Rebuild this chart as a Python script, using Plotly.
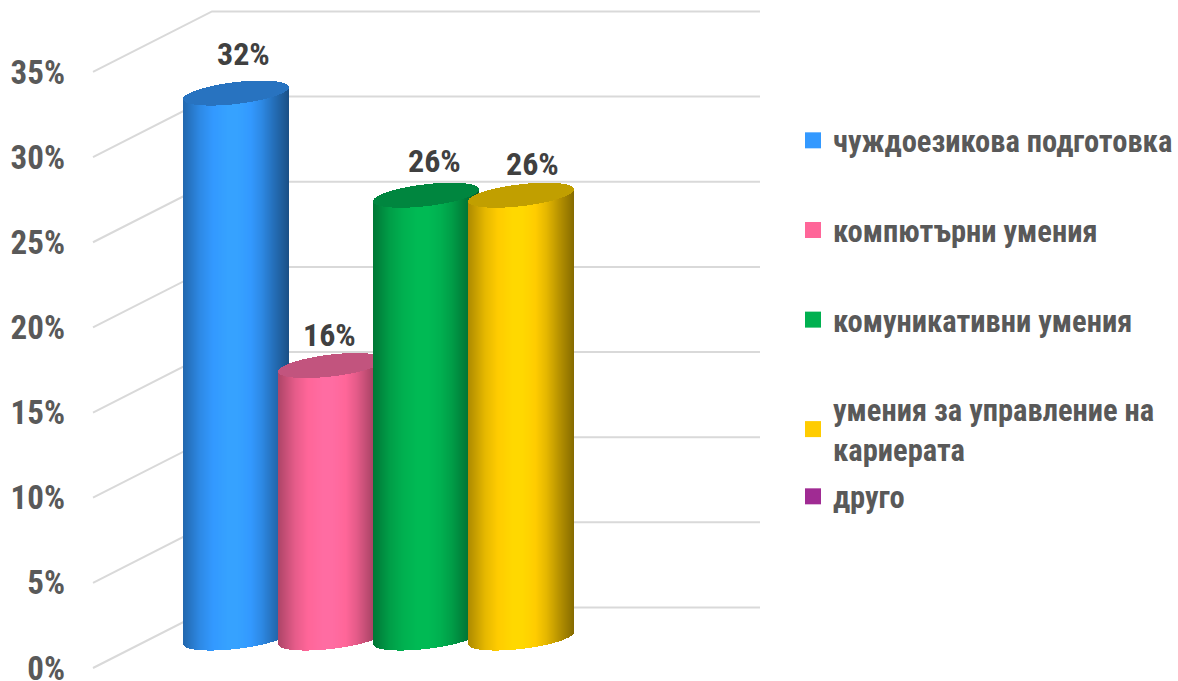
import plotly.graph_objects as go

W, H = 1178, 692
categories = ["чуждоезикова подготовка", "компютърни умения", "комуникативни умения",
              "умения за управление на<br>кариерата", "друго"]
values = [32, 16, 26, 26, 0]
base_colors = ["#3399FF", "#FF6699", "#00B050", "#FFCC00", "#A02090"]
cap_colors = ["#2873C0", "#C2547E", "#00863F", "#C19F00", "#A02090"]
legend_colors = ["#3399FF", "#FF6699", "#00B050", "#FFCC00", "#A02B93"]
tick_values = [0, 5, 10, 15, 20, 25, 30, 35]
tick_labels = ["0%", "5%", "10%", "15%", "20%", "25%", "30%", "35%"]
label_dx = [7, -2, 8, 11, 0]
label_dy = [39, 31, 34, 31, 0]

PX = 17.03
FONT = "Roboto Condensed, PT Sans Narrow, Liberation Sans, sans-serif"
front_zero, bar_zero, back_zero = 668, 638, 607.5
wall_front, wall_back, wall_end = 93, 212, 760
cyl_left, cyl_step, cyl_w = 183, 95, 106
tilt, minor = 6 / PX, 11 / PX
back_off = (front_zero - back_zero) / PX


def shade(hexc, f):
    r, g, b = [int(hexc[i:i + 2], 16) for i in (1, 3, 5)]
    return f"rgb({min(255, int(r * f))},{min(255, int(g * f))},{min(255, int(b * f))})"


stops = [(0, .68), (.06, .76), (.16, .90), (.28, 1), (.42, 1.06), (.52, 1.06), (.64, 1),
         (.74, .90), (.86, .72), (.96, .58), (1, .52)]


def profile(u):
    for (a, fa), (b, fb) in zip(stops, stops[1:]):
        if u <= b:
            return fa + (fb - fa) * (u - a) / (b - a)
    return stops[-1][1]


def cylinder(i, value):
    left = cyl_left + i * cyl_step
    n = cyl_w
    xs, bases, heights, colors = [], [], [], []
    caps_x, caps_b, caps_h = [], [], []
    for k in range(n):
        u = (k + .5) / n
        t = 2 * u - 1
        half = minor * (1 - t * t) ** .5
        mid = tilt * t
        xs.append(round(left) + k + .5)
        bases.append(mid - half)
        heights.append(value)
        colors.append(shade(base_colors[i], profile(u)))
        caps_x.append(round(left) + k + .5)
        caps_b.append(value + mid - half)
        caps_h.append(2 * half)
    return [
        go.Bar(x=xs, y=heights, base=bases, width=1, marker=dict(color=colors, line=dict(width=0)),
               xaxis="x", yaxis="y2", showlegend=False, hoverinfo="skip"),
        go.Bar(x=caps_x, y=caps_h, base=caps_b, width=1, marker=dict(color=cap_colors[i], line=dict(width=0)),
               xaxis="x", yaxis="y2", showlegend=False, hoverinfo="skip"),
    ]


fig = go.Figure()
for v in tick_values:
    fig.add_trace(go.Scatter(x=[wall_front, wall_back, wall_end], y=[v, v + back_off, v + back_off],
                             mode="lines", line=dict(color="#D9D9D9", width=2),
                             showlegend=False, hoverinfo="skip", xaxis="x", yaxis="y"))

annotations = []
for i, v in enumerate(values):
    if v <= 0:
        continue
    for tr in cylinder(i, v):
        fig.add_trace(tr)
    annotations.append(dict(x=cyl_left + i * cyl_step + cyl_w / 2, y=v, xref="x", yref="y2", text=f"{v}%",
                            showarrow=False, xshift=label_dx[i], yshift=label_dy[i],
                            font=dict(family=FONT, size=32, color="#404040", weight="bold")))

for i, (c, col) in enumerate(zip(categories, legend_colors)):
    fig.add_trace(go.Scatter(x=[None], y=[None], mode="markers", name=c,
                             marker=dict(symbol="square", size=17, color=col),
                             legend="legend2" if i == 4 else "legend", legendgroup=f"g{i}",
                             xaxis="x", yaxis="y"))

leg_font = dict(family=FONT, size=30.5, color="#595959", weight="bold")
fig.update_layout(
    width=W, height=H, margin=dict(l=0, r=0, t=0, b=0),
    paper_bgcolor="white", plot_bgcolor="white", barmode="overlay", bargap=0,
    xaxis=dict(range=[0, W], domain=[0, 1], visible=False, fixedrange=True),
    yaxis=dict(range=[(front_zero - H) / PX, front_zero / PX], domain=[0, 1], anchor="free", position=65 / W,
               tickmode="array", tickvals=tick_values, ticktext=tick_labels, showgrid=False, zeroline=False,
               showline=False, ticks="",
               tickfont=dict(family=FONT, size=33, color="#595959", weight="bold")),
    yaxis2=dict(range=[(bar_zero - H) / PX, bar_zero / PX], domain=[0, 1], overlaying="y", visible=False),
    legend=dict(x=793 / W, y=1 - 114 / H, xanchor="left", yanchor="top", bgcolor="rgba(0,0,0,0)",
                font=leg_font, tracegroupgap=47, traceorder="grouped"),
    legend2=dict(x=793 / W, y=1 - 470 / H, xanchor="left", yanchor="top", bgcolor="rgba(0,0,0,0)",
                 font=leg_font),
    annotations=annotations,
)
fig.write_html("out.html", config={"displayModeBar": False},
               post_script="document.body.style.margin='0';document.documentElement.style.overflow='hidden';")
